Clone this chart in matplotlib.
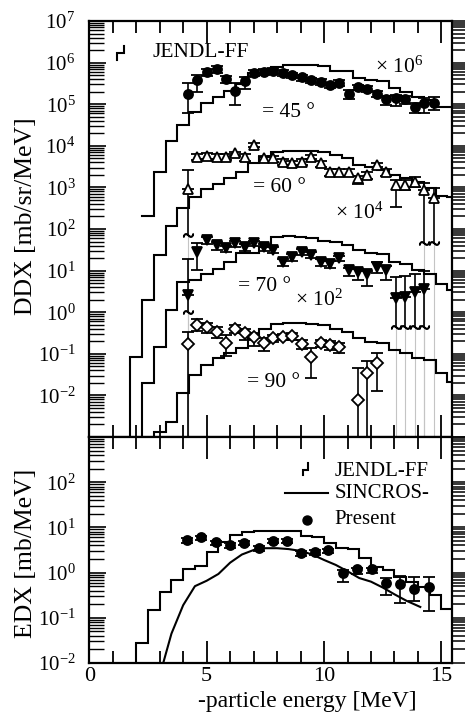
import numpy as np
import matplotlib
matplotlib.use("Agg")
import matplotlib.pyplot as plt
from matplotlib.ticker import LogLocator, MultipleLocator, FuncFormatter, NullFormatter

plt.rcParams['font.family'] = ['Liberation Serif', 'DejaVu Serif']
plt.rcParams['mathtext.fontset'] = 'custom'
plt.rcParams['mathtext.rm'] = 'Liberation Serif'
plt.rcParams['mathtext.it'] = 'Liberation Serif:italic'
plt.rcParams['mathtext.bf'] = 'Liberation Serif:bold'

# ---------------- data (log10 of plotted values) ----------------
BIN_W = 0.5
# JENDL-FF DDX histograms (already multiplied by 1e6, 1e4, 1e2, 1)
j45_start = 2.25
j45_log = [2.31, 3.37, 4.12, 4.50, 4.82, 5.03, 5.18, 5.32, 5.48, 5.74, 5.76, 5.90, 5.94,
           5.95, 5.94, 5.92, 5.81, 5.81, 5.62, 5.58, 5.57, 5.39, 5.29, 5.17, 5.10, 4.93, 4.93]
j60_start = 1.75
j60_log = [-1.08, 0.29, 1.37, 2.07, 2.50, 2.78, 2.95, 3.08, 3.22, 3.38, 3.58, 3.73, 3.86, 3.88,
           3.88, 3.87, 3.86, 3.78, 3.70, 3.54, 3.50, 3.42, 3.30, 3.22, 3.12, 2.98, 2.80, 2.78]
j70_start = 2.25
j70_log = [-1.70, -0.84, 0.05, 0.73, 0.77, 0.93, 1.03, 1.21, 1.42, 1.42, 1.57, 1.81, 1.83,
           1.82, 1.78, 1.72, 1.69, 1.62, 1.50, 1.42, 1.40, 1.20, 1.15, 1.01, 0.93, 0.69, 0.53]
j90_start = 2.75
j90_log = [-2.88, -2.64, -1.94, -1.51, -1.27, -1.11, -0.99, -0.85, -0.63, -0.40, -0.28, -0.26,
           -0.26, -0.28, -0.31, -0.40, -0.47, -0.62, -0.71, -0.75, -0.92, -0.97, -1.10, -1.15,
           -1.45, -1.67]

# measured DDX points
E_pts = [4.20, 4.60, 5.00, 5.42, 5.82, 6.22, 6.63, 7.03, 7.45, 7.84, 8.24, 8.64, 9.04, 9.45,
         9.85, 10.26, 10.65, 11.07, 11.45, 11.85, 12.26, 12.66, 13.08, 13.47, 13.86, 14.27, 14.67]
y45 = [5.24, 5.58, 5.78, 5.84, 5.60, 5.32, 5.56, 5.76, 5.78, 5.80, 5.76, 5.70, 5.65, 5.58,
       5.54, 5.46, 5.52, 5.25, 5.41, 5.37, 5.25, 5.12, 5.14, 5.12, 4.94, 5.02, 5.04]
lo45 = [4.78, 5.30, 5.68, 5.74, 5.50, 4.98, 5.36, 5.68, 5.70, 5.72, 5.68, 5.62, 5.57, 5.50,
        5.46, 5.38, 5.44, 5.12, 5.33, 5.29, 5.17, 4.98, 4.95, 5.00, 4.80, 4.78, 4.85]
hi45 = [5.50, 5.70, 5.85, 5.91, 5.68, 5.50, 5.66, 5.82, 5.84, 5.86, 5.82, 5.76, 5.71, 5.64,
        5.60, 5.52, 5.58, 5.33, 5.47, 5.43, 5.31, 5.20, 5.22, 5.20, 5.02, 5.14, 5.18]

y60 = [2.95, 3.74, 3.76, 3.74, 3.74, 3.82, 3.74, 4.02, 3.70, 3.70, 3.62, 3.58, 3.62, 3.74,
       3.58, 3.38, 3.38, 3.38, 3.22, 3.30, 3.54, 3.38, 3.06, 3.06, 3.14, 2.94, 2.74]
lo60 = [1.86, 3.66, 3.68, 3.66, 3.66, 3.76, 3.64, 3.96, 3.62, 3.62, 3.54, 3.50, 3.54, 3.68,
        3.50, 3.28, 3.28, 3.28, 3.08, 3.20, 3.48, 3.28, 2.54, 2.94, 3.02, 1.66, 1.66]
hi60 = [3.42, 3.80, 3.82, 3.80, 3.80, 3.86, 3.80, 4.06, 3.76, 3.76, 3.68, 3.64, 3.68, 3.78,
        3.64, 3.44, 3.44, 3.44, 3.28, 3.36, 3.58, 3.44, 3.18, 3.18, 3.26, 3.10, 2.98]
brk60 = [0, 25, 26]

E70 = E_pts[:26]
y70 = [0.41, 1.45, 1.74, 1.62, 1.54, 1.66, 1.57, 1.66, 1.57, 1.50, 1.21, 1.33, 1.45, 1.38,
       1.21, 1.17, 1.30, 1.01, 0.97, 0.93, 1.08, 1.01, 0.33, 0.37, 0.49, 0.57]
lo70 = [0.01, 1.01, 1.64, 1.50, 1.44, 1.56, 1.48, 1.58, 1.48, 1.42, 1.10, 1.24, 1.37, 1.30,
        1.10, 1.06, 1.22, 0.88, 0.78, 0.62, 0.95, 0.78, -0.35, -0.35, -0.35, -0.35]
hi70 = [1.27, 1.66, 1.80, 1.68, 1.60, 1.72, 1.63, 1.72, 1.63, 1.56, 1.27, 1.39, 1.51, 1.44,
        1.27, 1.23, 1.36, 1.07, 1.03, 0.99, 1.20, 1.12, 0.85, 0.88, 0.93, 0.98]
brk70 = [0, 22, 23, 24, 25]

E90 = [4.20, 4.60, 5.00, 5.42, 5.82, 6.22, 6.63, 7.03, 7.45, 7.84, 8.24, 8.64, 9.04, 9.45,
       9.85, 10.26, 10.65, 11.45, 11.85, 12.26]
y90 = [-0.77, -0.31, -0.36, -0.47, -0.73, -0.40, -0.49, -0.60, -0.73, -0.63, -0.60, -0.57,
       -0.77, -1.07, -0.75, -0.79, -0.84, -2.11, -1.47, -1.23]
lo90 = [-5.0, -0.45, -0.50, -0.62, -1.05, -0.50, -0.66, -0.82, -0.93, -0.72, -0.68, -0.66,
        -0.88, -1.59, -0.84, -0.92, -0.97, -5.0, -5.0, -1.89]
hi90 = [-0.47, -0.17, -0.25, -0.36, -0.55, -0.31, -0.40, -0.50, -0.62, -0.55, -0.52, -0.49,
        -0.68, -0.85, -0.66, -0.70, -0.75, -1.35, -1.18, -0.99]

# EDX panel
jedx_start = 2.0
jedx_log = [-1.55, -0.82, -0.42, -0.16, 0.08, 0.15, 0.45, 0.68, 0.83, 0.90, 0.93, 0.93, 0.93,
            0.93, 0.80, 0.79, 0.66, 0.55, 0.53, 0.32, 0.12, 0.05, -0.09, -0.20, -0.31, -0.50,
            -0.80]
sinc_E = [3.15, 3.5, 4.0, 4.5, 5.0, 5.5, 6.0, 6.5, 7.0, 7.5, 8.0, 8.5, 9.0, 9.5, 10.0, 10.5,
          11.0, 11.5, 12.0, 12.5, 13.0, 13.5, 14.1]
sinc_log = [-2.0, -1.35, -0.72, -0.30, -0.18, -0.03, 0.22, 0.40, 0.50, 0.54, 0.54, 0.52, 0.48,
            0.40, 0.28, 0.17, 0.03, -0.12, -0.20, -0.33, -0.48, -0.62, -0.76]
edx_E = [4.18, 4.74, 5.41, 6.00, 6.57, 7.22, 7.82, 8.41, 9.01, 9.60, 10.18, 10.81, 11.39,
         12.03, 12.62, 13.24, 13.85, 14.45]
edx_log = [0.72, 0.78, 0.67, 0.61, 0.66, 0.54, 0.70, 0.70, 0.43, 0.45, 0.49, -0.01, 0.07,
           0.07, -0.22, -0.25, -0.36, -0.31]
edx_lo = [0.66, 0.72, 0.60, 0.54, 0.60, 0.48, 0.65, 0.65, 0.37, 0.39, 0.44, -0.20, -0.04,
          0.00, -0.50, -0.68, -0.62, -0.84]
edx_hi = [0.76, 0.82, 0.71, 0.65, 0.70, 0.58, 0.74, 0.74, 0.47, 0.49, 0.53, 0.06, 0.10,
          0.10, -0.12, -0.08, -0.10, -0.09]

FLOOR = 1e-9
LW = 1.5

# ---------------- figure ----------------
fig = plt.figure(figsize=(4.65, 7.15), dpi=100)
ax1 = fig.add_axes([0.192, 0.3888, 0.780, 0.5818])
ax2 = fig.add_axes([0.192, 0.0727, 0.780, 0.3161])


def step_line(ax, start, logvals, rise):
    v = 10.0 ** np.asarray(logvals, float)
    e = start + BIN_W * np.arange(v.size + 1)
    xs = np.repeat(e, 2)[1:-1]
    ys = np.repeat(v, 2)
    if rise:
        xs = np.r_[e[0], xs]
        ys = np.r_[FLOOR, ys]
    ax.plot(xs, ys, color='k', lw=LW, solid_joinstyle='miter', zorder=2)


def points(ax, E, y, lo, hi, marker, filled, ms, brk=()):
    E = np.asarray(E, float)
    y = 10.0 ** np.asarray(y, float)
    lo = 10.0 ** np.asarray(lo, float)
    hi = 10.0 ** np.asarray(hi, float)
    lower = y - lo
    brk = list(brk)
    lower_plot = lower.copy()
    lower_plot[brk] = 0.0
    ax.errorbar(E, y, yerr=[lower_plot, hi - y], fmt=marker, ms=ms,
                mfc='k' if filled else 'white', mec='k', mew=1.3,
                ecolor='k', elinewidth=1.2, capsize=4, capthick=1.2, zorder=4)
    for i in brk:
        ax.vlines(E[i], FLOOR, lo[i], color='#c4c4c4', lw=0.8, zorder=0)
        ax.vlines(E[i], lo[i], y[i], color='k', lw=1.2, zorder=3)
        ax.plot(E[i], lo[i], marker=r'$\sim$', ms=7, color='k', zorder=5)


# top panel histograms
step_line(ax1, j45_start, j45_log, False)
step_line(ax1, j60_start, j60_log, True)
step_line(ax1, j70_start, j70_log, True)
step_line(ax1, j90_start, j90_log, True)

points(ax1, E_pts, y45, lo45, hi45, 'o', True, 6.5)
points(ax1, E_pts, y60, lo60, hi60, '^', False, 7, brk60)
points(ax1, E70, y70, lo70, hi70, 'v', True, 7, brk70)
points(ax1, E90, y90, lo90, hi90, 'D', False, 6.5)

# bottom panel
step_line(ax2, jedx_start, jedx_log, True)
ax2.plot(sinc_E, 10.0 ** np.asarray(sinc_log), color='k', lw=LW, zorder=2)
points(ax2, edx_E, edx_log, edx_lo, edx_hi, 'o', True, 6.5)

# axes styling
XMAX = 15.45
for ax in (ax1, ax2):
    ax.set_xlim(0, XMAX)
    ax.set_yscale('log')
    for s in ax.spines.values():
        s.set_linewidth(1.6)
    ax.xaxis.set_major_locator(MultipleLocator(5))
    ax.xaxis.set_minor_locator(MultipleLocator(1))
    ax.tick_params(axis='x', which='major', direction='in', top=True, bottom=True,
                   length=16, width=1.3, labelsize=16, pad=3)
    ax.tick_params(axis='x', which='minor', direction='in', top=True, bottom=True,
                   length=8.5, width=1.3)
    ax.yaxis.set_major_locator(LogLocator(base=10, numticks=100))
    ax.yaxis.set_minor_locator(LogLocator(base=10, subs=np.arange(2, 10), numticks=100))
    ax.yaxis.set_minor_formatter(NullFormatter())
    ax.tick_params(axis='y', which='major', direction='in', left=True, right=False,
                   length=12, width=1.2, labelsize=15, pad=10)
    ax.tick_params(axis='y', which='minor', direction='in', left=True, right=False,
                   length=11, width=1.0)

ax1.set_ylim(1e-3, 1e7)
ax2.set_ylim(1e-2, 1e3)
ax1.tick_params(axis='x', labelbottom=False)


def make_fmt(lo_exp, hi_exp):
    # label only decades inside [lo_exp, hi_exp]
    def f(v, pos):
        e = int(round(np.log10(v)))
        if e < lo_exp or e > hi_exp:
            return ''
        return r'$10^{%d}$' % e
    return f


ax1.yaxis.set_major_formatter(FuncFormatter(make_fmt(-2, 7)))
ax2.yaxis.set_major_formatter(FuncFormatter(make_fmt(-2, 2)))

# right-side outward ticks
for ax in (ax1, ax2):
    tw = ax.twinx()
    tw.set_yscale('log')
    tw.set_ylim(ax.get_ylim())
    tw.yaxis.set_major_locator(LogLocator(base=10, numticks=100))
    tw.yaxis.set_minor_locator(LogLocator(base=10, subs=np.arange(2, 10), numticks=100))
    tw.yaxis.set_major_formatter(NullFormatter())
    tw.yaxis.set_minor_formatter(NullFormatter())
    tw.tick_params(axis='y', which='both', direction='out', right=True, labelright=False,
                   length=12, width=1.1)
    for s in tw.spines.values():
        s.set_visible(False)

ax1.set_ylabel('DDX [mb/sr/MeV]', fontsize=18.5)
ax1.yaxis.set_label_coords(-0.145, 0.531)
ax2.set_ylabel('EDX [mb/MeV]', fontsize=18.5)
ax2.yaxis.set_label_coords(-0.145, 0.485)
ax2.set_xlabel('-particle energy [MeV]', fontsize=17)
ax2.xaxis.set_label_coords(0.60, -0.125)

# annotations top panel
TXT = 15.5
ax1.plot([0.0774, 0.0774, 0.0966, 0.0966], [0.906, 0.923, 0.923, 0.940],
         transform=ax1.transAxes, color='k', lw=LW, solid_joinstyle='miter')
ax1.text(0.173, 0.925, 'JENDL-FF', transform=ax1.transAxes, fontsize=TXT, va='center')
ax1.text(0.788, 0.889, r'× 10$^{6}$', transform=ax1.transAxes, fontsize=TXT, va='center')
ax1.text(0.476, 0.781, '= 45 °', transform=ax1.transAxes, fontsize=TXT, va='center')
ax1.text(0.451, 0.599, '= 60 °', transform=ax1.transAxes, fontsize=TXT, va='center')
ax1.text(0.677, 0.538, r'× 10$^{4}$', transform=ax1.transAxes, fontsize=TXT, va='center')
ax1.text(0.410, 0.361, '= 70 °', transform=ax1.transAxes, fontsize=TXT, va='center')
ax1.text(0.567, 0.329, r'× 10$^{2}$', transform=ax1.transAxes, fontsize=TXT, va='center')
ax1.text(0.435, 0.130, '= 90 °', transform=ax1.transAxes, fontsize=TXT, va='center')

# legend bottom panel
LEG = 15
ax2.plot([0.590, 0.590, 0.604, 0.604], [0.832, 0.854, 0.854, 0.883],
         transform=ax2.transAxes, color='k', lw=LW, solid_joinstyle='miter')
ax2.text(0.677, 0.846, 'JENDL-FF', transform=ax2.transAxes, fontsize=LEG, va='center')
ax2.plot([0.540, 0.658], [0.752, 0.752], transform=ax2.transAxes, color='k', lw=LW)
ax2.text(0.677, 0.752, 'SINCROS-', transform=ax2.transAxes, fontsize=LEG, va='center')
ax2.plot([0.600], [0.633], 'o', ms=6.5, color='k', transform=ax2.transAxes)
ax2.text(0.677, 0.633, 'Present', transform=ax2.transAxes, fontsize=LEG, va='center')

fig.savefig('out.png', dpi=100)
